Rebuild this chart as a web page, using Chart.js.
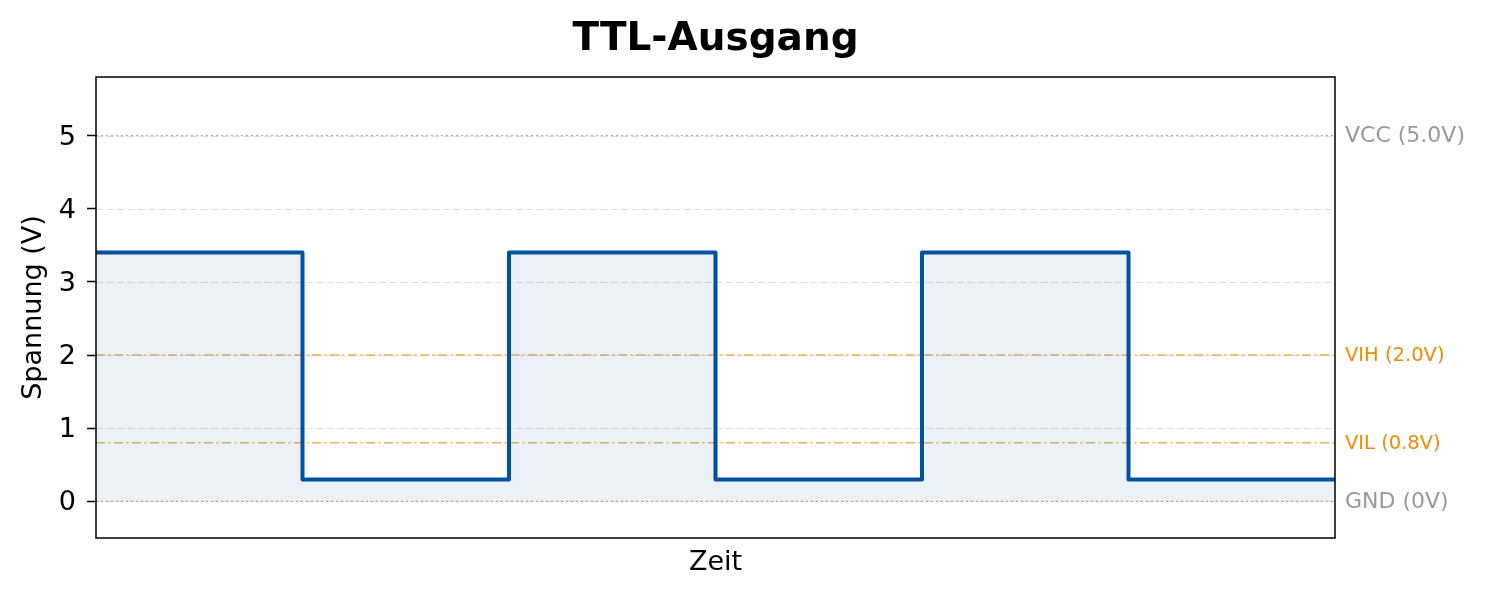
<!DOCTYPE html>
<html>
<head>
<meta charset="utf-8">
<title>TTL-Ausgang</title>
<script src="https://cdn.jsdelivr.net/npm/chart.js@4/dist/chart.umd.min.js"></script>
<style>
    html, body { margin: 0; padding: 0; background: #ffffff; }
    #wrap { width: 1485px; height: 598px; }
</style>
</head>
<body>
<div id="wrap"><canvas id="ttl-chart" width="1485" height="598"></canvas></div>
<script>
// Signal data: switching times and the level held from each time on
const edgeTimes = [0, 1, 2, 3, 4, 5, 6];
const levels = [3.4, 0.3, 3.4, 0.3, 3.4, 0.3, 0.3];

// Reference levels drawn across the plot, with their labels on the right
const refLevels = [5.0, 2.0, 0.8, 0];
const refLabels = ['VCC (5.0V)', 'VIH (2.0V)', 'VIL (0.8V)', 'GND (0V)'];
const refKinds = ['rail', 'logic', 'logic', 'rail'];

// Y tick values
const yTicks = [0, 1, 2, 3, 4, 5];

const FONT = "'DejaVu Sans', sans-serif";
const waveColor = '#0052a0';
const lineStyles = {
    rail: { color: '#aaaaaa', dash: [2, 3], width: 1.2, text: '#999999', size: 22 },
    logic: { color: 'rgba(243, 150, 25, 0.75)', dash: [9, 3.5, 2, 3.5], width: 1.5, text: '#f08c00', size: 19.5 }
};

// Dashed horizontal gridlines behind the data
const gridPlugin = {
    id: 'dashedGrid',
    beforeDatasetsDraw(chart) {
        const { ctx, chartArea, scales } = chart;
        ctx.save();
        ctx.strokeStyle = '#dddddd';
        ctx.lineWidth = 1.2;
        ctx.setLineDash([7, 3.5]);
        yTicks.forEach(v => {
            const y = Math.round(scales.y.getPixelForValue(v)) + 0.5;
            ctx.beginPath();
            ctx.moveTo(chartArea.left, y);
            ctx.lineTo(chartArea.right, y);
            ctx.stroke();
        });
        ctx.restore();
    }
};

// Frame around the plot and labels for the reference lines
const framePlugin = {
    id: 'frameAndLabels',
    afterDraw(chart) {
        const { ctx, chartArea, scales } = chart;
        ctx.save();
        ctx.strokeStyle = '#000000';
        ctx.lineWidth = 1.5;
        ctx.setLineDash([]);
        ctx.strokeRect(chartArea.left, chartArea.top,
            chartArea.right - chartArea.left, chartArea.bottom - chartArea.top);

        ctx.textAlign = 'left';
        ctx.textBaseline = 'middle';
        refLevels.forEach((v, i) => {
            const st = lineStyles[refKinds[i]];
            ctx.font = st.size + 'px ' + FONT;
            ctx.fillStyle = st.text;
            ctx.fillText(refLabels[i], chartArea.right + 10, scales.y.getPixelForValue(v) + 1);
        });
        ctx.restore();
    }
};

const datasets = [{
    label: 'TTL-Ausgang',
    data: edgeTimes.map((t, i) => ({ x: t, y: levels[i] })),
    borderColor: waveColor,
    borderWidth: 4,
    backgroundColor: 'rgba(0, 82, 160, 0.08)',
    fill: 'origin',
    stepped: true,
    pointRadius: 0,
    borderJoinStyle: 'round',
    order: 0
}];

refLevels.forEach((v, i) => {
    const st = lineStyles[refKinds[i]];
    datasets.push({
        label: refLabels[i],
        data: [{ x: edgeTimes[0], y: v }, { x: edgeTimes[edgeTimes.length - 1], y: v }],
        borderColor: st.color,
        borderWidth: st.width,
        borderDash: st.dash,
        pointRadius: 0,
        fill: false,
        order: 1
    });
});

new Chart(document.getElementById('ttl-chart'), {
    type: 'line',
    data: { datasets: datasets },
    options: {
        responsive: false,
        animation: false,
        devicePixelRatio: 1,
        // right padding + empty right axis keep the title centred over the plot
        layout: { padding: { left: 0, right: 54, top: 0, bottom: 0 } },
        plugins: {
            legend: { display: false },
            tooltip: { enabled: false },
            title: {
                display: true,
                text: 'TTL-Ausgang',
                color: '#000000',
                font: { family: FONT, size: 39, weight: 'bold', lineHeight: 1.2 },
                padding: { top: 16, bottom: 14.2 }
            }
        },
        scales: {
            x: {
                type: 'linear',
                min: edgeTimes[0],
                max: edgeTimes[edgeTimes.length - 1],
                grid: { display: false },
                border: { display: false },
                ticks: { display: false },
                title: {
                    display: true,
                    text: 'Zeit',
                    color: '#000000',
                    font: { family: FONT, size: 27, lineHeight: 1.2 },
                    padding: { top: 0, bottom: 19 }
                },
                afterFit(scale) { scale.height = 60; }
            },
            y: {
                min: -0.5,
                max: 5.8,
                border: { display: false },
                grid: {
                    drawOnChartArea: false,
                    drawTicks: true,
                    tickLength: 9,
                    tickColor: '#000000',
                    tickWidth: 1.5
                },
                ticks: {
                    stepSize: 1,
                    includeBounds: false,
                    padding: 11,
                    labelOffset: 2,
                    color: '#000000',
                    font: { family: FONT, size: 27 }
                },
                title: {
                    display: true,
                    text: 'Spannung (V)',
                    color: '#000000',
                    font: { family: FONT, size: 27, lineHeight: 1.2 },
                    padding: { top: 18, bottom: 0 }
                },
                afterFit(scale) { scale.width = 96; }
            },
            yRight: {
                position: 'right',
                min: -0.5,
                max: 5.8,
                grid: { display: false },
                border: { display: false },
                ticks: { display: false },
                afterFit(scale) { scale.width = 96; }
            }
        }
    },
    plugins: [gridPlugin, framePlugin]
});
</script>
</body>
</html>
